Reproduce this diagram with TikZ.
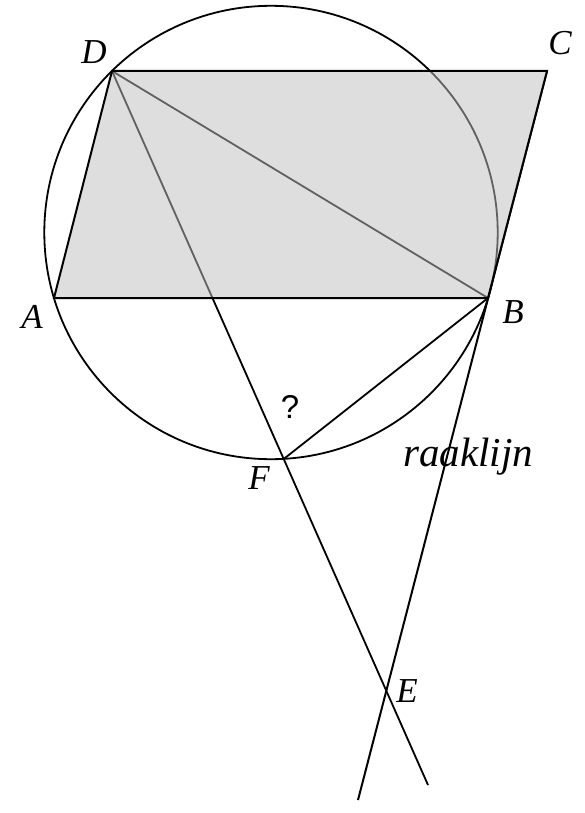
\documentclass[tikz,border=0pt]{standalone}
\usepackage{fontspec}
\setmainfont{Liberation Serif}
\newfontfamily\sansf{Liberation Sans}
\usetikzlibrary{calc}
\tikzset{
  blk/.style={draw=black,line width=2pt},
  thin/.style={draw=black,line width=1.8pt},
  grayline/.style={draw=black!62,line width=1.8pt},
  lbl/.style={font=\fontsize{35}{38}\selectfont\itshape,inner sep=0pt},
}
\begin{document}
\begin{tikzpicture}[x=1pt,y=-1pt]
\useasboundingbox (0,0) rectangle (584,813);
\coordinate (A) at (54,298);
\coordinate (B) at (488,298);
\coordinate (C) at (547,71);
\coordinate (D) at (112,71);
\coordinate (O) at (271,232.5);
\coordinate (P) at (428,785);
\coordinate (Q) at (358,800);
\coordinate (F) at ($(D)!0.5434!(P)$);
\coordinate (E) at (intersection of D--P and C--Q);
% fill
\fill[black!13] (A) -- (B) -- (C) -- (D) -- cycle;
% circle and lines
\draw[thin] (O) circle[radius=226.7pt];
\draw[thin] (D) -- (B);
\draw[thin] (D) -- (P);
\draw[thin] (B) -- (F);
\draw[blk] (C) -- (Q);
% gray inside the parallelogram
\begin{scope}
\clip (A) -- (B) -- (C) -- (D) -- cycle;
\fill[black!13] (A) -- (B) -- (C) -- (D) -- cycle;
\draw[grayline] (O) circle[radius=226.7pt];
\draw[grayline] (D) -- (B);
\draw[grayline] (D) -- (P);
\end{scope}
% edges
\draw[blk,line join=miter] (A) -- (B) -- (C) -- (D) -- cycle;
% labels
\node[lbl] (lD) at (94,52) {D};
\node[lbl] (lC) at (560,43) {C};
\node[lbl] (lA) at (32,317) {A};
\node[lbl] (lB) at (513,312) {B};
\node[lbl] (lF) at (259,478) {F};
\node[lbl] (lE) at (407,691) {E};
\node[font=\fontsize{33}{36}\selectfont\sansf,inner sep=0pt] (lq) at (290,407) {?};
\node[font=\fontsize{41}{44}\selectfont\itshape,inner sep=0pt] (lr) at (468,457) {raaklijn};
\end{tikzpicture}
\end{document}
